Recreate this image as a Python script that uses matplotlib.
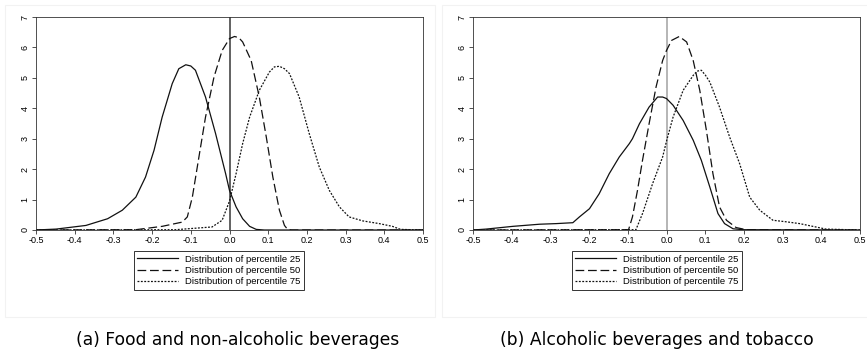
import matplotlib.pyplot as plt
from matplotlib.patches import Rectangle

# panel (a): Food and non-alcoholic beverages
a_p25_x = [-0.5, -0.448, -0.371, -0.315, -0.277, -0.242, -0.217, -0.195, -0.174, -0.148, -0.131,
           -0.113, -0.100, -0.088, -0.062, -0.036, -0.010, 0.0, 0.017, 0.034, 0.052, 0.069, 0.09, 0.5]
a_p25_y = [0.0, 0.03, 0.15, 0.37, 0.65, 1.08, 1.74, 2.62, 3.71, 4.81, 5.30,
           5.43, 5.39, 5.25, 4.37, 3.17, 1.85, 1.3, 0.76, 0.37, 0.12, 0.02, 0.0, 0.0]
a_p50_x = [-0.5, -0.242, -0.174, -0.122, -0.109, -0.096, -0.079, -0.062, -0.040, -0.019, 0.0,
           0.013, 0.024, 0.034, 0.056, 0.077, 0.095, 0.112, 0.129, 0.142, 0.150, 0.16, 0.5]
a_p50_y = [0.0, 0.01, 0.12, 0.26, 0.43, 1.08, 2.4, 3.71, 5.03, 5.9, 6.29,
           6.36, 6.32, 6.18, 5.57, 4.37, 3.06, 1.74, 0.65, 0.15, 0.02, 0.0, 0.0]
a_p75_x = [-0.5, -0.139, -0.045, -0.019, 0.0, 0.017, 0.034, 0.052, 0.077, 0.103, 0.116, 0.129,
           0.142, 0.155, 0.180, 0.206, 0.232, 0.258, 0.284, 0.309, 0.344, 0.387, 0.421, 0.442, 0.5]
a_p75_y = [0.0, 0.01, 0.1, 0.32, 0.95, 1.85, 2.84, 3.71, 4.59, 5.19, 5.36, 5.38,
           5.30, 5.14, 4.37, 3.17, 2.07, 1.30, 0.76, 0.43, 0.30, 0.21, 0.12, 0.02, 0.0]

# panel (b): Alcoholic beverages and tobacco
b_p25_x = [-0.5, -0.466, -0.397, -0.328, -0.285, -0.242, -0.225, -0.199, -0.174, -0.148, -0.122,
           -0.096, -0.088, -0.070, -0.045, -0.023, -0.010, 0.0, 0.017, 0.043, 0.069, 0.090, 0.112,
           0.133, 0.150, 0.172, 0.198, 0.5]
b_p25_y = [0.0, 0.03, 0.12, 0.19, 0.21, 0.24, 0.43, 0.70, 1.19, 1.85, 2.4,
           2.84, 3.0, 3.49, 4.04, 4.37, 4.37, 4.32, 4.1, 3.6, 2.95, 2.29, 1.41,
           0.54, 0.21, 0.04, 0.01, 0.0]
b_p50_x = [-0.5, -0.098, -0.088, -0.075, -0.062, -0.045, -0.027, -0.010, 0.0, 0.013, 0.033,
           0.052, 0.069, 0.086, 0.103, 0.120, 0.137, 0.155, 0.180, 0.206, 0.5]
b_p50_y = [0.0, 0.01, 0.43, 1.30, 2.29, 3.49, 4.70, 5.57, 5.9, 6.23, 6.36,
           6.18, 5.57, 4.59, 3.28, 1.85, 0.76, 0.32, 0.08, 0.01, 0.0]
b_p75_x = [-0.5, -0.079, -0.062, -0.036, -0.010, 0.0, 0.017, 0.043, 0.069, 0.079, 0.090, 0.101,
           0.112, 0.137, 0.163, 0.189, 0.215, 0.241, 0.275, 0.309, 0.344, 0.378, 0.412, 0.5]
b_p75_y = [0.0, 0.01, 0.54, 1.52, 2.4, 2.92, 3.71, 4.59, 5.08, 5.22, 5.25, 5.08,
           4.86, 4.04, 3.06, 2.18, 1.08, 0.65, 0.32, 0.27, 0.21, 0.12, 0.03, 0.0]

labels = ["Distribution of percentile 25", "Distribution of percentile 50",
          "Distribution of percentile 75"]
x_ticks = [-0.5, -0.4, -0.3, -0.2, -0.1, 0.0, 0.1, 0.2, 0.3, 0.4, 0.5]
y_ticks = [0, 1, 2, 3, 4, 5, 6, 7]
captions = ["(a) Food and non-alcoholic beverages", "(b) Alcoholic beverages and tobacco"]

panels = [
    (a_p25_x, a_p25_y, a_p50_x, a_p50_y, a_p75_x, a_p75_y, "#555555"),
    (b_p25_x, b_p25_y, b_p50_x, b_p50_y, b_p75_x, b_p75_y, "#b0b0b0"),
]

W, H = 867, 351
fig = plt.figure(figsize=(W / 100, H / 100), dpi=100)
plt.rcParams['font.family'] = ['Liberation Sans', 'DejaVu Sans']

lefts = [36, 473]
cap_x = [238, 657]
for i, (x1, y1, x2, y2, x3, y3, vcol) in enumerate(panels):
    L = lefts[i]
    # faint panel border like the original figure crop
    fig.patches.append(Rectangle(((L - 31) / W, (H - 317) / H), 430 / W, 312 / H,
                                 transform=fig.transFigure, fill=False,
                                 edgecolor="#f2f2f2", linewidth=0.8))
    ax = fig.add_axes([L / W, (H - 230) / H, 387 / W, 213 / H])
    ax.axvline(0, color=vcol, lw=1.3, zorder=1)
    l1, = ax.plot(x1, y1, color="#111111", lw=0.9, ls="-")
    l2, = ax.plot(x2, y2, color="#111111", lw=0.9, dashes=(7, 3))
    l3, = ax.plot(x3, y3, color="#111111", lw=0.9, dashes=(1.5, 1.2))
    ax.set_xlim(-0.5, 0.5)
    ax.set_ylim(0, 7)
    ax.set_xticks(x_ticks)
    ax.set_xticklabels(["%.1f" % t for t in x_ticks])
    ax.set_yticks(y_ticks)
    ax.set_yticklabels([str(t) for t in y_ticks], rotation=90, va="center")
    ax.tick_params(direction="out", length=3, width=0.6, labelsize=6.5, pad=1.5, color="#333333")
    for s in ax.spines.values():
        s.set_linewidth(0.6)
        s.set_color("#333333")
    leg = ax.legend([l1, l2, l3], labels, loc="upper left",
                    bbox_to_anchor=((98 if i == 0 else 99) / 387, -0.1),
                    fontsize=6.8, frameon=True, fancybox=False, handlelength=4.3,
                    borderpad=0.35, labelspacing=0.25, handletextpad=0.8, borderaxespad=0)
    leg.get_frame().set_edgecolor("black")
    leg.get_frame().set_linewidth(0.7)
    fig.text(cap_x[i] / W, 1 - 340 / H, captions[i], ha="center", va="center",
             fontsize=12.3, family="DejaVu Sans")

fig.savefig("out.png", dpi=100)
